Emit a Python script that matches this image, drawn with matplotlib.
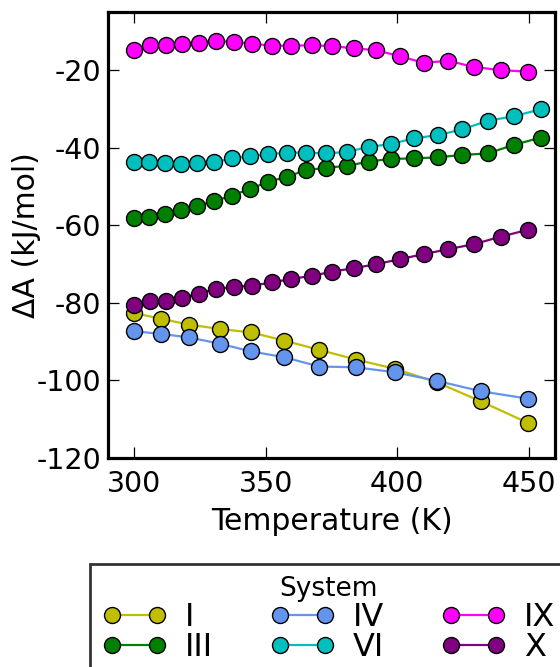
import matplotlib
matplotlib.use("Agg")
import matplotlib.pyplot as plt

plt.rcParams["axes.unicode_minus"] = False
plt.rcParams["font.family"] = "DejaVu Sans"

# temperatures (K)
temp_a = [300, 310.2, 320.9, 332.4, 344.4, 357.0, 370.3, 384.3, 399.2, 415.1, 431.9, 449.8]
temp_b = [300, 305.7, 311.7, 317.6, 324.0, 330.3, 337.1, 343.8, 350.7, 358.0, 365.4,
          373.0, 380.9, 389.1, 397.6, 406.2, 415.4, 424.6, 434.4, 444.3, 454.7]
temp_c = [300, 306.0, 312.0, 318.0, 324.5, 331.1, 337.9, 344.9, 352.3, 359.6,
          367.5, 375.3, 383.6, 392.0, 400.9, 410.0, 419.5, 429.3, 439.3, 449.8]

# free energies (kJ/mol)
sys_I = [-82.7, -84.2, -85.7, -86.8, -87.7, -89.8, -92.2, -94.7, -97.1, -100.6, -105.5, -111.1]
sys_IV = [-87.4, -88.1, -89.0, -90.6, -92.6, -94.1, -96.5, -96.7, -98.0, -100.2, -102.9, -104.8]
sys_III = [-58.2, -57.8, -57.2, -56.1, -55.0, -53.8, -52.4, -50.7, -48.9, -47.5, -45.8,
           -45.2, -44.7, -43.6, -42.9, -42.8, -42.5, -41.9, -41.5, -39.3, -37.4]
sys_VI = [-43.8, -43.8, -44.0, -44.2, -44.0, -43.8, -42.8, -42.2, -41.7, -41.3, -41.3,
          -41.5, -41.1, -39.8, -39.1, -37.6, -36.8, -35.3, -33.1, -31.9, -30.1]
sys_IX = [-14.85, -13.4, -13.6, -13.2, -12.9, -12.5, -12.7, -13.2, -13.7, -13.7,
          -13.6, -13.8, -14.4, -14.85, -16.4, -18.1, -17.6, -19.2, -20.0, -20.4]
sys_X = [-80.6, -79.7, -79.5, -78.7, -77.7, -76.4, -76.0, -75.6, -74.8, -73.9,
         -73.1, -72.0, -71.1, -70.1, -68.8, -67.5, -66.2, -64.9, -63.0, -61.2]

series = [
    ("I", temp_a, sys_I, "#bfbf00"),
    ("III", temp_b, sys_III, "#008000"),
    ("IV", temp_a, sys_IV, "#6495ed"),
    ("VI", temp_b, sys_VI, "#00bfbf"),
    ("IX", temp_c, sys_IX, "#ff00ff"),
    ("X", temp_c, sys_X, "#800080"),
]

fig = plt.figure(figsize=(5.6, 6.67), dpi=100)
ax = fig.add_axes([0.193, 0.314, 0.798, 0.668])

for name, t, v, col in series:
    ax.plot(t, v, "-o", color=col, lw=1.6, ms=11.5, mfc=col, mec="black",
            mew=1.0, label=name)

ax.set_xlim(290, 460)
ax.set_ylim(-120, -5)
ax.set_xticks([300, 350, 400, 450])
ax.set_yticks([-120, -100, -80, -60, -40, -20])
ax.tick_params(direction="in", top=True, right=True, length=8, width=0.9,
               labelsize=20.5)
ax.tick_params(axis="x", pad=9)
ax.tick_params(axis="y", pad=5)
for s in ax.spines.values():
    s.set_linewidth(2.3)

ax.set_xlabel("Temperature (K)", fontsize=21.5)
ax.set_ylabel("ΔA (kJ/mol)", fontsize=21.5)
ax.xaxis.set_label_coords(0.5, -0.11)
ax.yaxis.set_label_coords(-0.151, 0.5)

leg = fig.legend(loc="upper left", bbox_to_anchor=(0.1607, 0.1544),
                 borderaxespad=0, ncol=3, numpoints=2, fontsize=23,
                 title="System", title_fontsize=19, frameon=True,
                 fancybox=False, edgecolor="black", handlelength=2.0,
                 handletextpad=0.58, columnspacing=1.8, labelspacing=-0.02,
                 borderpad=0.39)
leg.get_frame().set_linewidth(2.0)

fig.savefig("out.png", dpi=100)
